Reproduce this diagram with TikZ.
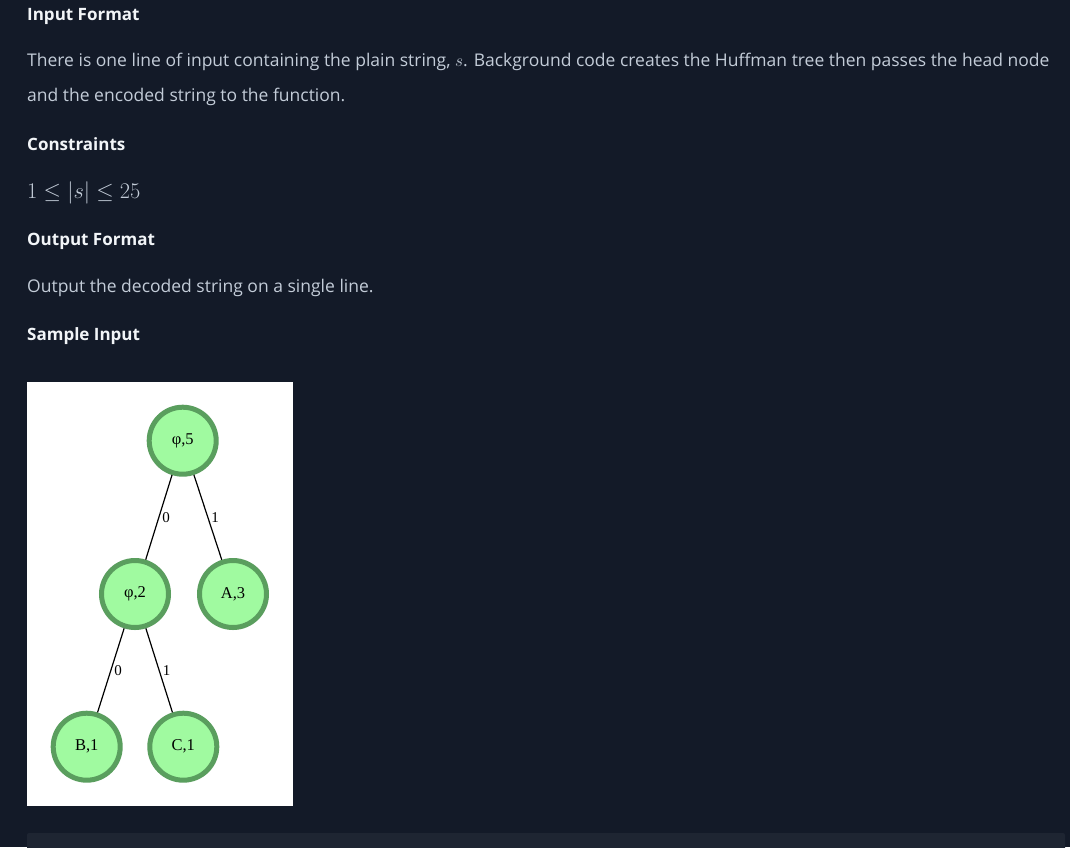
\documentclass[tikz,border=0pt]{standalone}
\usepackage{fontspec}
\setmainfont{Open Sans}
\newfontfamily\treefont{Liberation Serif}
\definecolor{bgc}{HTML}{131A28}
\definecolor{boxc}{HTML}{1E2532}
\definecolor{headc}{HTML}{F2F5F8}
\definecolor{bodyc}{HTML}{C3CCD8}
\definecolor{nodefill}{HTML}{A0FAA0}
\definecolor{nodeline}{HTML}{5A9E5E}
\begin{document}
\begin{tikzpicture}[x=1pt,y=-1pt,
  head/.style={anchor=base west,inner sep=0pt,text=headc,font=\bfseries\fontsize{17}{20}\selectfont},
  body/.style={anchor=base west,inner sep=0pt,text=bodyc,font=\fontsize{17.5}{20}\selectfont},
  tnode/.style={circle,draw=nodeline,fill=nodefill,line width=5pt,minimum size=67pt,inner sep=0pt,font=\treefont\fontsize{16.5}{17}\selectfont},
  edge/.style={draw=black,line width=1.2pt},
  elab/.style={font=\treefont\fontsize{15}{16}\selectfont,inner sep=0pt,anchor=west,xshift=3pt}]
\fill[bgc] (0,0) rectangle (1070,847);
\useasboundingbox (0,0) rectangle (1070,847);
\node[head] (h1) at (27,20) {Input Format};
\node[body] (l1) at (27,66) {There is one line of input containing the plain string, $s$. Background code creates the Huffman tree then passes the head node};
\node[body] (l2) at (27,101) {and the encoded string to the function.};
\node[head] (h2) at (27,150) {Constraints};
\node[anchor=base west,inner sep=0pt,text=bodyc,font=\fontsize{20.74}{24}\selectfont] (c1) at (27,198) {\scalebox{1.08}{$1\le|s|\le25$}};
\node[head] (h3) at (27,245) {Output Format};
\node[body] (o1) at (27,292) {Output the decoded string on a single line.};
\node[head] (h4) at (27,340) {Sample Input};
\fill[white] (27,382) rectangle (293,806);
\fill[boxc,rounded corners=2pt] (27,833) rectangle (1065,852);
\node[tnode] (p5) at (182.7,440.7) {φ,5};
\node[tnode] (p2) at (135,594) {φ,2};
\node[tnode] (a3) at (233,594) {A,3};
\node[tnode] (b1) at (86.7,746.7) {B,1};
\node[tnode] (cc1) at (183.3,746.7) {C,1};
\draw[edge] (p5) -- node[elab] {0} (p2);
\draw[edge] (p5) -- node[elab] {1} (a3);
\draw[edge] (p2) -- node[elab] {0} (b1);
\draw[edge] (p2) -- node[elab] {1} (cc1);
\end{tikzpicture}
\end{document}
